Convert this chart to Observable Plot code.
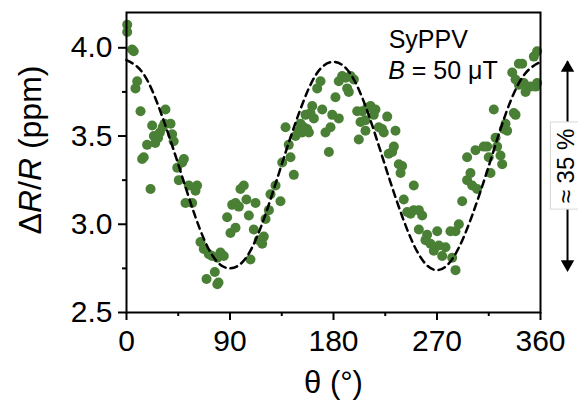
<!DOCTYPE html>
<html><head><meta charset="utf-8">
<script src="https://cdn.jsdelivr.net/npm/d3@7"></script>
<script src="https://cdn.jsdelivr.net/npm/@observablehq/plot@0.6"></script>
<style>body{margin:0;background:#fff} #chart{width:578px;height:401px;overflow:hidden}</style>
</head><body><div id="chart"></div>
<script>
// measured angle (deg) and ΔR/R (ppm)
const theta = [0.6,0.6,4.9,6.3,9.3,7.8,12.2,22.3,23.8,17.9,15.0,13.6,20.9,25,27.5,29,31.5,33,33.9,38.3,39.7,41,44.1,48.4,49.9,45.5,54.2,61.4,60,51.3,57.1,64.3,67.2,71.6,74.5,81.7,84.6,79,69.6,76.8,79,80,87.5,90.4,94.8,91.9,94.8,97.7,99.1,102,104.3,106.4,107.8,110.7,115,112.2,
119.4,118,120.9,123.8,125.2,129.6,133.9,135.4,142.6,145.5,141.1,138.3,147,149.9,152.8,154.2,157.1,158.6,151.3,155.7,160,162.9,161.5,170.2,168.7,165.8,173,177.4,176,178.9,184.6,181.7,184.6,187.5,190.4,194.8,197.7,191.9,193.3,200.6,205,203.5,207.8,209.3,212.2,216.5,215,207.8,202,219.4,222.3,226.7,228,223.7,
233.9,232.5,231,236.8,239.7,238.3,249.8,241.1,244.1,247,249.8,254.2,257.1,254.2,261.4,260,264.3,267.2,270.2,271.6,274.5,277.4,281.7,286.1,283.2,286.1,289,291.9,296.2,299.1,296.2,300.6,304.9,303.5,310.7,313.6,315,316.5,319.4,320.9,322.3,325.2,326.7,328.1,331,329.6,338.3,335.4,338.3,341.2,341.2,
344.1,354.2,357.1,345.5,347,351.3,355.7,357.1,336.8];
const ratio = [4.13,4.09,3.99,3.98,3.81,3.77,3.64,3.56,3.50,3.45,3.38,3.37,3.20,3.46,3.49,3.52,3.55,3.57,3.65,3.57,3.51,3.47,3.32,3.35,3.37,3.25,3.22,3.22,3.19,3.12,3.12,2.90,2.86,2.83,2.82,2.84,2.82,2.81,2.69,2.73,2.66,2.67,3.04,2.95,2.98,3.11,3.12,3.10,3.20,3.22,3.14,3.05,2.80,2.97,2.91,3.12,
2.93,2.89,3.03,3.08,3.17,3.22,3.13,3.35,3.38,3.28,3.45,3.55,3.50,3.53,3.52,3.55,3.54,3.52,3.57,3.62,3.63,3.60,3.67,3.65,3.81,3.77,3.52,3.55,3.41,3.62,3.60,3.72,3.81,3.84,3.83,3.84,3.82,3.77,3.75,3.64,3.64,3.58,3.59,3.66,3.67,3.65,3.62,3.53,3.48,3.55,3.54,3.61,3.40,3.52,
3.53,3.44,3.41,3.34,3.33,3.29,3.22,3.14,3.07,3.06,3.08,3.08,3.05,2.97,2.94,2.91,2.89,2.85,2.96,2.88,2.82,2.87,2.96,2.96,2.81,2.74,3.00,3.13,3.38,3.29,3.25,3.22,3.20,3.42,3.44,3.44,3.38,3.29,3.65,3.49,3.44,3.39,3.34,3.54,3.53,3.57,3.62,3.86,3.82,3.79,3.91,
3.91,3.95,3.98,3.80,3.75,3.78,3.78,3.80,3.63];
// dashed fit curve
const fitTheta = [0,15,30,45,60,75,90,105,120,135,150,165,180,195,210,225,240,255,270,285,300,315,330,345,360];
const fitValue = [3.93,3.85,3.63,3.34,3.04,2.82,2.75,2.82,3.04,3.34,3.63,3.85,3.92,3.85,3.63,3.33,3.04,2.82,2.74,2.82,3.04,3.33,3.63,3.84,3.92];
const xTicks = [0,90,180,270,360];
const xMinor = [45,135,225,315];
const yTicks = [2.5,3.0,3.5,4.0];
const yMinor = [2.75,3.25,3.75];
const rangeEnds = [3.92, 2.74];
const annoX = 383.5;
const annoLabel = "≈ 35 %";
const sample = "SyPPV";

const pts = theta.map((t,i)=>({theta:t, dR:ratio[i]}));
const fit = fitTheta.map((t,i)=>({theta:t, v:fitValue[i]}));
const mid = (rangeEnds[0]+rangeEnds[1])/2;

const plot = Plot.plot({
  width:578, height:401,
  marginLeft:126, marginRight:38, marginTop:12, marginBottom:89,
  x:{domain:[0,360], label:null},
  y:{domain:[2.5,4.2], label:null},
  style:{fontFamily:"'Liberation Sans', Arial, sans-serif", fontSize:"30px", color:"black", background:"white", overflow:"visible"},
  marks:[
    Plot.dot(pts, {x:"theta", y:"dR", r:5, fill:"#4a8035"}),
    Plot.line(fit, {x:"theta", y:"v", curve:"natural", stroke:"black", strokeWidth:2.5, strokeDasharray:"7,5"}),
    Plot.frame({strokeWidth:2}),
    Plot.axisX({ticks:xTicks, tickSize:8, tickPadding:9, strokeWidth:2, fontSize:30, label:null}),
    Plot.axisX({ticks:xMinor, tickSize:4, strokeWidth:2, tickFormat:()=>"", label:null}),
    Plot.axisY({ticks:yTicks, tickSize:8, tickPadding:6, strokeWidth:2, fontSize:30, tickFormat:d3.format(".1f"), label:null}),
    Plot.axisY({ticks:yMinor, tickSize:4, strokeWidth:2, tickFormat:()=>"", label:null}),
    Plot.text(["θ (°)"], {frameAnchor:"bottom", dy:80, lineAnchor:"bottom", fontSize:31}),
    Plot.text([sample], {x:228, y:4.0, textAnchor:"start", lineAnchor:"bottom", fontSize:25}),
    // amplitude annotation
    Plot.ruleX([annoX], {y1:rangeEnds[1], y2:rangeEnds[0], strokeWidth:2}),
    Plot.dot([annoX], {x:d=>d, y:rangeEnds[0], symbol:"triangle", r:5, fill:"black", stroke:null, dy:6}),
    Plot.dot([annoX], {x:d=>d, y:rangeEnds[1], symbol:"triangle", r:5, fill:"black", stroke:null, rotate:180, dy:-6}),
    Plot.rect([0], {x1:annoX-14.5, x2:annoX+10, y1:mid-0.247, y2:mid+0.247, fill:"white", stroke:"#d8d8d8", strokeWidth:1}),
    Plot.text([annoLabel], {x:annoX-1, y:mid, rotate:-90, fontSize:24, lineAnchor:"middle"})
  ]
});
document.getElementById("chart").appendChild(plot);

const svg = d3.select(plot);
const sx = plot.scale("x"), sy = plot.scale("y");
// B = 50 µT line with italic B
const t2 = svg.append("text").attr("x", sx.apply(228)).attr("y", sy.apply(3.82))
  .attr("text-anchor","start").attr("font-size", 25).attr("fill", "black");
t2.append("tspan").attr("font-style","italic").text("B");
t2.append("tspan").text(" = 50 μT");
// y label ΔR/R (ppm)
const yl = svg.append("text").attr("transform", "translate(41,150) rotate(-90)")
  .attr("text-anchor","middle").attr("font-size", 32).attr("fill","black");
yl.append("tspan").text("Δ");
yl.append("tspan").attr("font-style","italic").text("R");
yl.append("tspan").text("/");
yl.append("tspan").attr("font-style","italic").text("R");
yl.append("tspan").text(" (ppm)");
</script></body></html>
